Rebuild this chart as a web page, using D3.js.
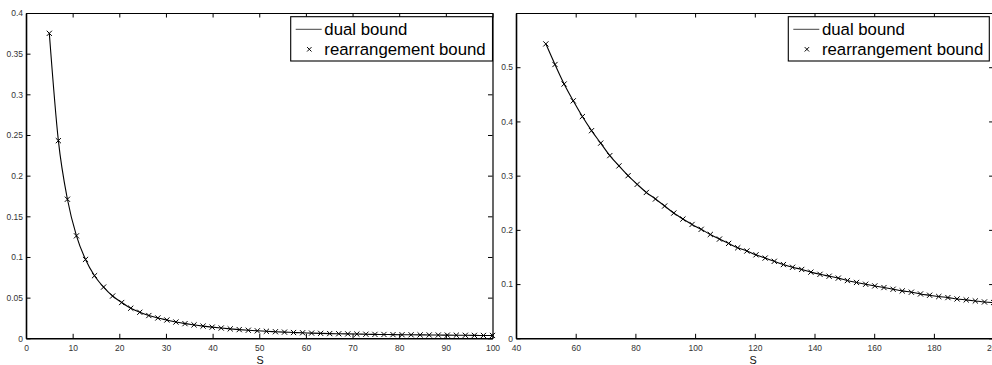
<!DOCTYPE html>
<html>
<head>
<meta charset="utf-8">
<script src="https://cdn.jsdelivr.net/npm/d3@7"></script>
<style>
  body { margin: 0; background: #fff; }
  svg { display: block; font-family: "Liberation Sans", Arial, sans-serif; }
</style>
</head>
<body>
<div id="chart"></div>
<script>
// 1. Data. Both bounds coincide, so the line and the x markers share values.
const sLeft = [5.00, 6.94, 8.88, 10.82, 12.76, 14.69, 16.63, 18.57, 20.51, 22.45,
  24.39, 26.33, 28.27, 30.20, 32.14, 34.08, 36.02, 37.96, 39.90, 41.84,
  43.78, 45.71, 47.65, 49.59, 51.53, 53.47, 55.41, 57.35, 59.29, 61.22,
  63.16, 65.10, 67.04, 68.98, 70.92, 72.86, 74.80, 76.73, 78.67, 80.61,
  82.55, 84.49, 86.43, 88.37, 90.31, 92.24, 94.18, 96.12, 98.06, 100.00];
const boundLeft = [0.375, 0.243, 0.171, 0.126, 0.097, 0.077, 0.063, 0.052, 0.044, 0.037,
  0.032, 0.028, 0.025, 0.0225, 0.020, 0.018, 0.0165, 0.015, 0.0137, 0.0126,
  0.0116, 0.0107, 0.0099, 0.0092, 0.0086, 0.0081, 0.0076, 0.0071, 0.0068, 0.0064,
  0.0061, 0.0058, 0.0056, 0.0054, 0.0052, 0.0050, 0.0048, 0.0047, 0.0045, 0.0044,
  0.0043, 0.0042, 0.0041, 0.0040, 0.0039, 0.0038, 0.0037, 0.0036, 0.0035, 0.0035];

const sRight = [50.00, 53.06, 56.12, 59.18, 62.24, 65.31, 68.37, 71.43, 74.49, 77.55,
  80.61, 83.67, 86.73, 89.80, 92.86, 95.92, 98.98, 102.04, 105.10, 108.16,
  111.22, 114.29, 117.35, 120.41, 123.47, 126.53, 129.59, 132.65, 135.71, 138.78,
  141.84, 144.90, 147.96, 151.02, 154.08, 157.14, 160.20, 163.27, 166.33, 169.39,
  172.45, 175.51, 178.57, 181.63, 184.69, 187.76, 190.82, 193.88, 196.94, 200.00];
const boundRight = [0.543, 0.505, 0.469, 0.438, 0.409, 0.383, 0.360, 0.337, 0.318, 0.300,
  0.284, 0.269, 0.257, 0.244, 0.231, 0.220, 0.210, 0.201, 0.1915, 0.183,
  0.175, 0.167, 0.161, 0.154, 0.148, 0.142, 0.136, 0.131, 0.127, 0.122,
  0.118, 0.1145, 0.111, 0.1065, 0.103, 0.0997, 0.0966, 0.0936, 0.0905, 0.0874,
  0.085, 0.0818, 0.0794, 0.077, 0.0751, 0.0726, 0.0708, 0.0689, 0.067, 0.066];

const xTicksLeft = [0, 10, 20, 30, 40, 50, 60, 70, 80, 90, 100];
const yTicksLeft = [0, 0.05, 0.1, 0.15, 0.2, 0.25, 0.3, 0.35, 0.4];
const xTicksRight = [40, 60, 80, 100, 120, 140, 160, 180, 200];
const yTicksRight = [0, 0.1, 0.2, 0.3, 0.4, 0.5];

const legendLabels = ["dual bound", "rearrangement bound"];

// 2. SVG
const WIDTH = 992, HEIGHT = 365;
const svg = d3.select("#chart").append("svg")
  .attr("width", WIDTH)
  .attr("height", HEIGHT);

const TICK = 4.5; // MATLAB style ticks pointing inwards

function drawPanel(p) {
  const x = d3.scaleLinear().domain(p.xDomain).range([p.left, p.right]);
  const y = d3.scaleLinear().domain(p.yDomain).range([p.bottom, p.top]);

  const g = svg.append("g");

  // axes: bottom & left carry labels, top & right only mirror the ticks
  const styleAxis = (sel, w) => {
    sel.select(".domain").attr("stroke", "#000").attr("stroke-width", w);
    sel.selectAll(".tick line").attr("stroke", "#000").attr("stroke-width", 1);
    sel.selectAll(".tick text").attr("fill", "#333").style("font-size", "8.5px");
  };

  g.append("g").attr("transform", `translate(0,${p.top})`)
    .call(d3.axisTop(x).tickValues(p.xTicks).tickSize(-TICK).tickSizeOuter(0).tickFormat(""))
    .call(s => styleAxis(s, 1.2));
  g.append("g").attr("transform", `translate(${p.right},0)`)
    .call(d3.axisRight(y).tickValues(p.yTicks).tickSize(-TICK).tickSizeOuter(0).tickFormat(""))
    .call(s => styleAxis(s, 1.2));
  g.append("g").attr("transform", `translate(0,${p.bottom})`)
    .call(d3.axisBottom(x).tickValues(p.xTicks).tickSize(-TICK).tickSizeOuter(0).tickPadding(7).tickFormat(d3.format("")))
    .call(s => styleAxis(s, 1.6));
  g.append("g").attr("transform", `translate(${p.left},0)`)
    .call(d3.axisLeft(y).tickValues(p.yTicks).tickSize(-TICK).tickSizeOuter(0).tickPadding(3).tickFormat(d3.format("")))
    .call(s => styleAxis(s, 1.6));

  // x axis title
  g.append("text")
    .attr("x", p.labelX)
    .attr("y", 364)
    .attr("text-anchor", "middle")
    .style("font-size", "10.8px")
    .attr("fill", "#111")
    .text("S");

  // dual bound line
  const line = d3.line()
    .x((d, i) => x(p.s[i]))
    .y(d => y(d))
    .curve(d3.curveMonotoneX);

  g.append("path")
    .datum(p.v)
    .attr("fill", "none")
    .attr("stroke", "#000")
    .attr("stroke-width", 1.1)
    .attr("d", line);

  // rearrangement bound markers
  const m = 2.6;
  g.selectAll(".mk")
    .data(p.v)
    .enter()
    .append("path")
    .attr("class", "mk")
    .attr("transform", (d, i) => `translate(${x(p.s[i])},${y(d)})`)
    .attr("d", `M${-m},${-m}L${m},${m}M${-m},${m}L${m},${-m}`)
    .attr("stroke", "#000")
    .attr("stroke-width", 1);

  // legend box, flush with the top right corner of the plot area
  const lg = svg.append("g").attr("transform", `translate(${p.legendX},16.7)`);
  lg.append("rect")
    .attr("width", p.legendW)
    .attr("height", 44.3)
    .attr("fill", "#fff")
    .attr("stroke", "#000")
    .attr("stroke-width", 1.1);
  lg.append("line")
    .attr("x1", 5).attr("x2", 31)
    .attr("y1", 12.6).attr("y2", 12.6)
    .attr("stroke", "#444")
    .attr("stroke-width", 1);
  lg.append("path")
    .attr("transform", "translate(18.6,32.6)")
    .attr("d", "M-2.2,-2.2L2.2,2.2M-2.2,2.2L2.2,-2.2")
    .attr("stroke", "#000")
    .attr("stroke-width", 1);
  lg.selectAll("text.lab")
    .data(legendLabels)
    .enter()
    .append("text")
    .attr("class", "lab")
    .attr("x", 33.6)
    .attr("y", (d, i) => 18.4 + i * 20)
    .style("font-size", "16.8px")
    .attr("fill", "#000")
    .text(d => d);
}

// 3. Left panel
drawPanel({
  s: sLeft, v: boundLeft,
  xDomain: [0, 100], yDomain: [0, 0.4],
  xTicks: xTicksLeft, yTicks: yTicksLeft,
  left: 26, right: 492.5, top: 13, bottom: 338.3,
  labelX: 260, legendX: 290.7, legendW: 201.8
});

// 4. Right panel (runs slightly off the right edge of the page like the original)
drawPanel({
  s: sRight, v: boundRight,
  xDomain: [40, 200], yDomain: [0, 0.6],
  xTicks: xTicksRight, yTicks: yTicksRight,
  left: 516, right: 993.6, top: 13, bottom: 338.3,
  labelX: 753, legendX: 788.3, legendW: 201
});
</script>
</body>
</html>
